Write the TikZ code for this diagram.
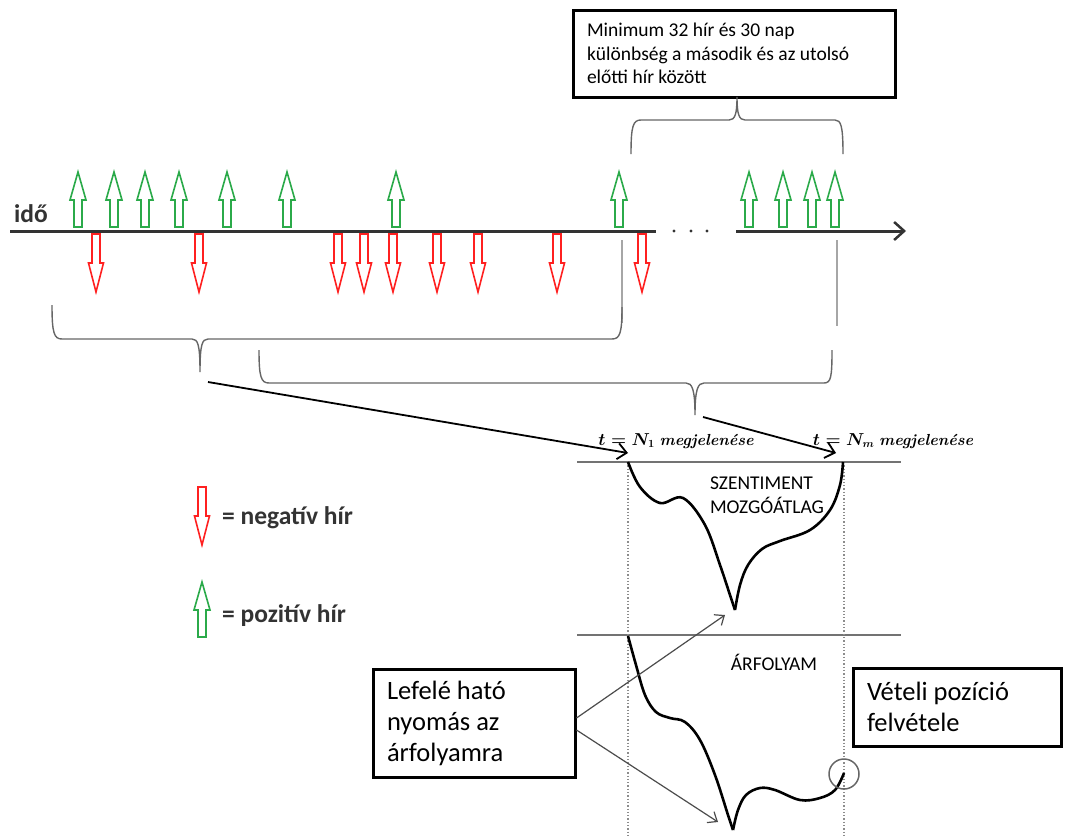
\documentclass[tikz,border=0pt]{standalone}
\usepackage{amsmath}
\usepackage{fontspec}
\setmainfont{Carlito}
\newfontfamily\lmr{Latin Modern Roman}
\usetikzlibrary{arrows.meta,calc}
\definecolor{posgreen}{HTML}{2BAA4A}
\definecolor{negred}{HTML}{FF2020}
\definecolor{axisgray}{HTML}{333333}
\begin{document}
\begin{tikzpicture}[x=1pt,y=-1pt,
  uparr/.pic={\draw[posgreen,line width=1.6pt] (-4,0) -- (-4,-27) -- (-8,-27) -- (0,-55) -- (8,-27) -- (4,-27) -- (4,0) -- cycle;},
  downarr/.pic={\draw[negred,line width=1.6pt] (-4,0) -- (-4,29) -- (-7.5,29) -- (0,58) -- (7.5,29) -- (4,29) -- (4,0) -- cycle;},
  textbox/.style={draw=black,line width=3pt,fill=white,align=flush left,inner xsep=14pt,inner ysep=0pt},
  brace/.style={draw=black!60,line width=1.4pt},
  blackarrow/.style={draw=black,line width=1.8pt,-{Straight Barb[length=9pt,width=16pt,line width=1.8pt]}},
  grayarrow/.style={draw=black!70,line width=1.2pt,-{Straight Barb[length=8pt,width=13pt,line width=1.2pt]}},
  panel/.style={draw=black!55,line width=2.8pt},
  dotline/.style={draw=black!45,line width=1.3pt,dotted},
  curve/.style={draw=black,line width=2.6pt,line join=round},
  lbl/.style={font=\fontsize{16}{19}\selectfont\lmr,inner sep=0pt},
  legtext/.style={anchor=west,inner sep=0pt,font=\fontsize{25.5}{30}\selectfont\bfseries,text=axisgray}
]
\useasboundingbox (0,0) rectangle (1065,838);

% top box
\node[textbox,text width=294pt,minimum height=87pt,font=\fontsize{19.5}{23.5}\selectfont] (topbox) at (734,53.5)
  {Minimum 32 hír és 30 nap\\különbség a második és az utolsó\\előtti hír között};

% top brace
\coordinate (ttip) at (737,97);
\draw[brace] (631,154) .. controls (631,126) and (633,120) .. (641,120) -- (729,120)
  .. controls (735,120) and (737,114) .. (ttip) .. controls (737,114) and (739,120) .. (745,120)
  -- (835,120) .. controls (841,120) and (843,126) .. (843,154);

% time axis
\node[legtext] (ido) at (14,214) {idő};
\coordinate (ax0) at (10,231);
\coordinate (ax1) at (656,231);
\coordinate (ax2) at (736,231);
\coordinate (ax3) at (906,231);
\draw[axisgray,line width=3pt] (ax0) -- (ax1);
\draw[axisgray,line width=3pt,-{Straight Barb[length=10pt,width=18pt,line width=2.5pt]}] (ax2) -- (ax3);
\foreach \x in {674,691,707} \fill[axisgray] (\x,231) circle (1.6);

% news arrows
\foreach \x in {78,114,145,179,227,287,396,619,749,783,812,835} \pic at (\x,227) {uparr};
\foreach \x in {96,199,338,364,393,437,478,557,642} \pic at (\x,234) {downarr};

% gray verticals
\draw[black!35,line width=2pt] (622,240) -- (622,323);
\draw[black!35,line width=2pt] (837,240) -- (837,326);

% braces
\coordinate (tip1) at (200,372);
\coordinate (tip2) at (695,415);
\draw[brace] (52,305) .. controls (52,333) and (54,339) .. (62,339) -- (192,339)
  .. controls (198,339) and (200,345) .. (tip1) .. controls (200,345) and (202,339) .. (208,339)
  -- (612,339) .. controls (620,339) and (622,333) .. (622,307);
\draw[brace] (259,350) .. controls (259,377) and (261,383) .. (269,383) -- (686,383)
  .. controls (692,383) and (695,389) .. (tip2) .. controls (695,389) and (698,383) .. (704,383)
  -- (824,383) .. controls (831,383) and (832,377) .. (832,350);

% labels and arrows
\node[lbl] (n1) at (676,441) {$\boldsymbol{t = N_1}$ \textbf{\textit{megjelenése}}};
\node[lbl] (nm) at (893,441) {$\boldsymbol{t = N_m}$ \textbf{\textit{megjelenése}}};
\coordinate (s1) at (208,382);
\coordinate (s2) at (703,417);
\coordinate (e1) at (628,453);
\coordinate (e2) at (836,453);
\draw[blackarrow] (s1) -- (e1);
\draw[blackarrow] (s2) -- (e2);

% panels
\draw[panel] (577,462) -- (901,462);
\draw[panel] (577,635) -- (901,635);
\draw[dotline] (628,462) -- (628,838);
\draw[dotline] (844,462) -- (844,838);

% sentiment curve
\draw[curve] plot[smooth,tension=0.6] coordinates {(628,462) (640,487) (660,503) (683,498) (705,525) (720,565) (730,595) (735,610)};
\draw[curve] plot[smooth,tension=0.6] coordinates {(735,610) (740,585) (748,565) (762,549) (780,541) (810,530) (830,510) (840,485) (843,462)};
\node[align=flush left,inner sep=0pt,font=\fontsize{19.5}{24}\selectfont] (szent) at (767,495) {SZENTIMENT\\MOZGÓÁTLAG};

% price curve
\draw[curve] plot[smooth,tension=0.6] coordinates {(628,636) (636,665) (645,695) (656,712) (670,718) (685,722) (700,740) (715,775) (728,815) (733,830)};
\draw[curve] plot[smooth,tension=0.6] coordinates {(733,830) (738,810) (746,795) (760,788) (775,790) (800,800) (820,798) (835,790) (844,773)};
\node[inner sep=0pt,font=\fontsize{19.5}{24}\selectfont] (arf) at (774,662) {ÁRFOLYAM};
\node[draw=black!60,line width=1.5pt,circle,minimum size=30pt,inner sep=0pt] (circ) at (844,774) {};

% left box
\node[textbox,text width=174pt,minimum height=108pt,font=\fontsize{26.5}{31}\selectfont] (lbox) at (474,723)
  {Lefelé ható\\nyomás az\\árfolyamra};
\draw[grayarrow] ($(lbox.east)+(0,-5)$) -- (725,615);
\draw[grayarrow] ($(lbox.east)+(0,7)$) -- (718,822);

% right box
\node[textbox,text width=180pt,minimum height=78pt,font=\fontsize{26.5}{31}\selectfont] (rbox) at (957,707)
  {Vételi pozíció\\felvétele};

% legend
\pic at (202,487) {downarr};
\node[legtext] (neg) at (222,518) {= negatív hír};
\pic at (202,637) {uparr};
\node[legtext] (pos) at (222,616) {= pozitív hír};
\end{tikzpicture}
\end{document}
